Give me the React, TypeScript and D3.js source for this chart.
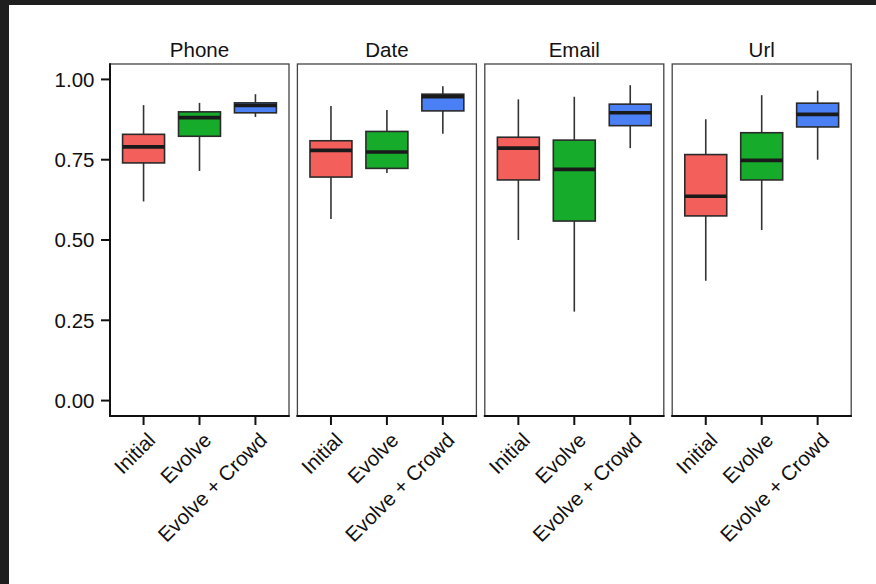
import React from "react";
import * as d3 from "d3";

const panels = ["Phone", "Date", "Email", "Url"];
const methods = ["Initial", "Evolve", "Evolve + Crowd"];
const colors = ["#F35F5B", "#17AB2B", "#4B80F5"];
const yTicks = [0, 0.25, 0.5, 0.75, 1.0];

// [whiskerLow, q1, median, q3, whiskerHigh] per panel, per method
const phoneStats = [
  [0.62, 0.74, 0.79, 0.829, 0.92],
  [0.715, 0.823, 0.881, 0.899, 0.927],
  [0.883, 0.896, 0.919, 0.927, 0.954],
];
const dateStats = [
  [0.565, 0.696, 0.779, 0.809, 0.917],
  [0.709, 0.723, 0.774, 0.838, 0.905],
  [0.831, 0.902, 0.946, 0.954, 0.979],
];
const emailStats = [
  [0.5, 0.687, 0.786, 0.82, 0.938],
  [0.277, 0.559, 0.72, 0.811, 0.946],
  [0.786, 0.856, 0.896, 0.923, 0.982],
];
const urlStats = [
  [0.373, 0.575, 0.636, 0.766, 0.876],
  [0.531, 0.687, 0.748, 0.834, 0.951],
  [0.75, 0.852, 0.891, 0.926, 0.965],
];
const allStats = [phoneStats, dateStats, emailStats, urlStats];

const W = 876;
const H = 584;
const panelLeft0 = 110;
const panelW = 179;
const panelGap = 8.4;
const top = 64;
const bottom = 416;
const font = "'Liberation Sans', Arial, Helvetica, sans-serif";
const fs = 20.5;

export default function App() {
  const y = d3.scaleLinear().domain([-0.048, 1.048]).range([bottom, top]);
  return (
    <svg
      width={W}
      height={H}
      style={{ position: "absolute", left: 0, top: 0, background: "#fff" }}
    >
      <rect x={0} y={0} width={W} height={H} fill="#fff" />
      <rect x={0} y={0} width={W} height={5} fill="#1e1e1e" />
      <rect x={0} y={0} width={9} height={H} fill="#1e1e1e" />
      {/* y axis */}
      {yTicks.map((t) => (
        <g key={t}>
          <line x1={101} x2={110} y1={y(t)} y2={y(t)} stroke="#111" strokeWidth={2} />
          <text
            x={94.5}
            y={y(t)}
            dy="0.36em"
            textAnchor="end"
            fontFamily={font}
            fontSize={fs}
            fill="#111"
          >
            {t.toFixed(2)}
          </text>
        </g>
      ))}
      {panels.map((p, pi) => {
        const left = panelLeft0 + pi * (panelW + panelGap);
        const right = left + panelW;
        const x = d3.scalePoint<string>().domain(methods).range([left, right]).padding(0.6);
        const bw = x.step() * 0.75;
        return (
          <g key={p}>
            <text
              x={(left + right) / 2}
              y={56.7}
              textAnchor="middle"
              fontFamily={font}
              fontSize={fs}
              fill="#111"
            >
              {p}
            </text>
            <rect
              x={left}
              y={top}
              width={panelW}
              height={bottom - top}
              fill="#fff"
              stroke="#444"
              strokeWidth={1.3}
            />
            {methods.map((m, mi) => {
              const s = allStats[pi][mi];
              const cx = x(m) as number;
              return (
                <g key={m}>
                  <line x1={cx} x2={cx} y1={y(s[0])} y2={y(s[1])} stroke="#333" strokeWidth={1.6} />
                  <line x1={cx} x2={cx} y1={y(s[3])} y2={y(s[4])} stroke="#333" strokeWidth={1.6} />
                  <rect
                    x={cx - bw / 2}
                    y={y(s[3])}
                    width={bw}
                    height={y(s[1]) - y(s[3])}
                    fill={colors[mi]}
                    stroke="#2a2a2a"
                    strokeWidth={1.6}
                  />
                  <line
                    x1={cx - bw / 2}
                    x2={cx + bw / 2}
                    y1={y(s[2])}
                    y2={y(s[2])}
                    stroke="#1a1a1a"
                    strokeWidth={3.6}
                  />
                  <line x1={cx} x2={cx} y1={bottom} y2={bottom + 9} stroke="#111" strokeWidth={2} />
                  <text
                    transform={`translate(${cx + 2.5},${bottom + 15}) rotate(-45)`}
                    dy="0.72em"
                    textAnchor="end"
                    fontFamily={font}
                    fontSize={fs}
                    fill="#111"
                  >
                    {m}
                  </text>
                </g>
              );
            })}
            <line x1={left - 1} x2={right + 0.7} y1={bottom} y2={bottom} stroke="#111" strokeWidth={2} />
          </g>
        );
      })}
      <line x1={110} x2={110} y1={top - 0.7} y2={bottom + 1} stroke="#111" strokeWidth={2} />
    </svg>
  );
}
